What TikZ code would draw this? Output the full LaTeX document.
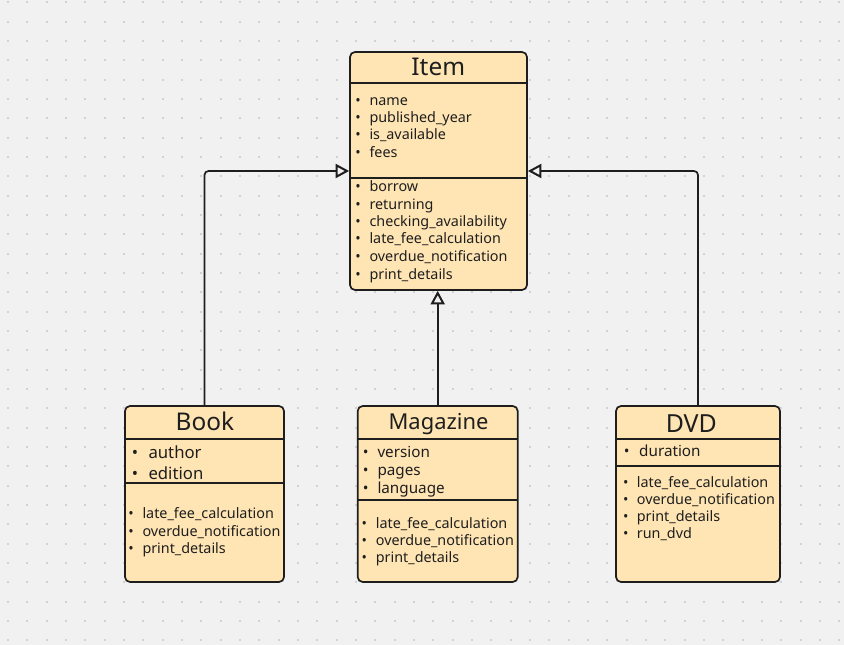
\documentclass[tikz,border=0pt]{standalone}
\usepackage{fontspec}
\setmainfont{Noto Sans}
\usetikzlibrary{arrows.meta}
\definecolor{bgc}{HTML}{F1F1F1}
\definecolor{dotc}{HTML}{D2D2D2}
\definecolor{boxfill}{HTML}{FFE5B4}
\definecolor{ink}{HTML}{1E1E1E}
\newcommand\entry[5]{%
  \node[bul] (#1-b) at (#2,#4) {•};
  \node[txt] (#1) at (#3,#4) {#5};}
\begin{document}
\begin{tikzpicture}[x=1bp,y=-1bp,
  classbox/.style={draw=ink, line width=1.7bp, fill=boxfill, rounded corners=5bp, inner sep=0pt},
  sepline/.style={draw=ink, line width=1.7bp},
  title/.style={anchor=base, inner sep=0pt, text=ink},
  txt/.style={anchor=base west, inner sep=0pt, text=ink, yshift=-1bp},
  bul/.style={anchor=base, inner sep=0pt, text=ink, yshift=-1bp},
  small/.style={font=\fontsize{14.4}{17}\selectfont},
  mid/.style={font=\fontsize{15.3}{18}\selectfont},
  big/.style={font=\fontsize{16.8}{20}\selectfont},
  inherit/.style={draw=ink, line width=1.7bp,
    -{Triangle[open, length=13.5bp, width=14bp, line width=2bp]}},
]
\fill[bgc] (0,0) rectangle (844,645);
\useasboundingbox (0,0) rectangle (844,645);
\foreach \i in {0,...,43} \foreach \j in {0,...,33}
  \fill[dotc] ({7+19.33*\i},{1.3+19.33*\j}) rectangle ++(2,2);

% class boxes
\node[classbox, minimum width=177bp, minimum height=238bp] (item) at (438.5,171) {};
\node[classbox, minimum width=159bp, minimum height=176bp] (book) at (204.5,494) {};
\node[classbox, minimum width=160bp, minimum height=176bp] (mag) at (437.7,494) {};
\node[classbox, minimum width=164bp, minimum height=176bp] (dvd) at (698,494) {};

% separators
\draw[sepline] (350,83) -- (527,83);
\draw[sepline] (350,178) -- (527,178);
\draw[sepline] (125,439.3) -- (284,439.3);
\draw[sepline] (125,482.7) -- (284,482.7);
\draw[sepline] (357.7,439.3) -- (517.7,439.3);
\draw[sepline] (357.7,500.3) -- (517.7,500.3);
\draw[sepline] (616,439.3) -- (780,439.3);
\draw[sepline] (616,466) -- (780,466);

% titles
\node[title, font=\fontsize{24.5}{28}\selectfont] (item-t) at (438.3,76) {Item};
\node[title, font=\fontsize{24.5}{28}\selectfont] (book-t) at (204.9,430.3) {Book};
\node[title, font=\fontsize{22}{26}\selectfont] (mag-t) at (438.5,429.5) {Magazine};
\node[title, font=\fontsize{25}{28}\selectfont] (dvd-t) at (691.3,432) {DVD};

% Item
\begin{scope}[small]
\entry{i1}{358}{369.3}{104.7}{name}
\entry{i2}{358}{369.3}{121.7}{published\_year}
\entry{i3}{358}{369.3}{139}{is\_available}
\entry{i4}{358}{369.3}{156.3}{fees}
\entry{i5}{358}{369.3}{190.7}{borrow}
\entry{i6}{358}{369.3}{208.3}{returning}
\entry{i7}{358}{369.3}{225.7}{checking\_availability}
\entry{i8}{358}{369.3}{243}{late\_fee\_calculation}
\entry{i9}{358}{369.3}{260.7}{overdue\_notification}
\entry{i10}{358}{369.3}{278}{print\_details}
\end{scope}

% Book
\begin{scope}[big]
\entry{b1}{135}{148.3}{457.5}{author}
\entry{b2}{135}{148.3}{478.5}{edition}
\end{scope}
\begin{scope}[small]
\entry{b3}{131}{142.3}{517.5}{late\_fee\_calculation}
\entry{b4}{131}{142.3}{535}{overdue\_notification}
\entry{b5}{131}{142.3}{552}{print\_details}
\end{scope}

% Magazine
\begin{scope}[mid]
\entry{m1}{365.7}{377.3}{456}{version}
\entry{m2}{365.7}{377.3}{474.5}{pages}
\entry{m3}{365.7}{377.3}{492.5}{language}
\end{scope}
\begin{scope}[small]
\entry{m4}{364.3}{375.7}{527}{late\_fee\_calculation}
\entry{m5}{364.3}{375.7}{544}{overdue\_notification}
\entry{m6}{364.3}{375.7}{561.5}{print\_details}
\end{scope}

% DVD
\begin{scope}[mid]
\entry{d1}{626.7}{639}{455.2}{duration}
\end{scope}
\begin{scope}[small]
\entry{d2}{625.7}{636.7}{486}{late\_fee\_calculation}
\entry{d3}{625.7}{636.7}{503}{overdue\_notification}
\entry{d4}{625.7}{636.7}{520}{print\_details}
\entry{d5}{625.7}{636.7}{537}{run\_dvd}
\end{scope}

% inheritance connectors
\draw[inherit] (book.north) [rounded corners=4bp] |- ([xshift=-20bp]item.west)
  [sharp corners] -- (item.west);
\draw[inherit] (dvd.north) [rounded corners=4bp] |- ([xshift=20bp]item.east)
  [sharp corners] -- (item.east);
\draw[inherit] (mag.north) -- (mag.north |- item.south);
\end{tikzpicture}
\end{document}
